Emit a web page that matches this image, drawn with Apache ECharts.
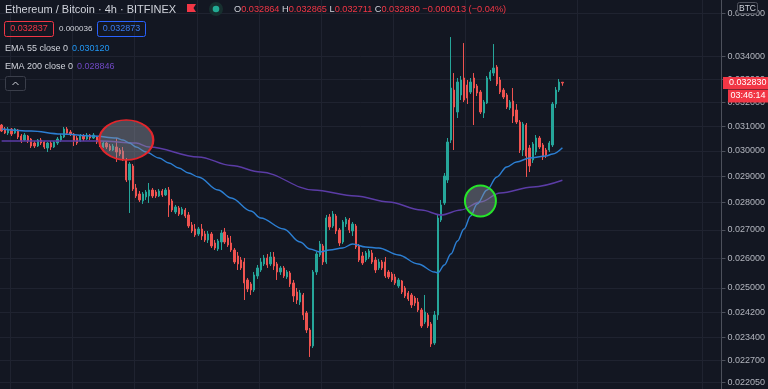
<!DOCTYPE html>
<html>
<head>
<meta charset="utf-8">
<title>ETH/BTC 4h BITFINEX</title>
<script src="https://cdn.jsdelivr.net/npm/echarts@6.0.0/dist/echarts.min.js"></script>
<style>
html,body{margin:0;padding:0;background:#131722;overflow:hidden;}
#chart{width:768px;height:389px;}
</style>
</head>
<body>
<div id="chart"></div>
<script>
// ---------------- data (prices in millionths of BTC) ----------------
const PRICE_UNIT = 1e-6;
const SLOT_COUNT = 220; // visible 4h slots, including empty right margin

// [open, close, low, high]
const candles = [
[31046,30799,30758,31088],[30882,30717,30676,30964],[30717,30882,30636,30964],[30882,30676,30595,30923],
[30717,30882,30676,30923],[30840,30555,30474,30882],[30595,30392,30312,30676],[30433,30636,30392,30717],
[30595,30392,30312,30636],[30474,30191,30111,30514],[30312,30191,30111,30392],[30191,30433,30151,30474],
[30433,30312,30232,30514],[30352,30151,30071,30392],[30111,30312,29951,30352],[30312,30151,30031,30392],
[30151,30352,30111,30392],[30312,30474,30232,30555],[30433,30595,30352,30676],[30555,30882,30514,30964],
[30882,30717,30636,30964],[30758,30676,30595,30840],[30676,30392,30191,30717],[30514,30312,30232,30595],
[30392,30595,30352,30676],[30595,30474,30392,30676],[30474,30636,30433,30717],[30636,30514,30433,30676],
[30514,30636,30474,30717],
[30555,30352,30272,30595],[30392,30191,30151,30474],[30151,30312,30111,30392],[30312,30151,30071,30352],
[30191,30031,29991,30272],[30031,30191,29991,30272],[30151,29951,29556,30514],[30031,29872,29793,30111],
[29991,29635,29596,30151],[29635,28857,28780,29714],[28857,29478,27618,29556],[29400,28514,28438,29478],
[28552,28250,28175,28704],[28325,28100,28025,28438],[28063,28325,27951,28400],[28213,28400,28100,28476],
[28250,28476,27988,28742],[28476,28250,28175,28552],[28400,28250,28175,28476],[28250,28438,28213,28514],
[28438,28288,28213,28514],[28288,28476,28250,28552],[28476,27914,27472,28590],[28063,27728,27654,28138],
[27654,27840,27581,27914],[27802,27581,27508,27877],[27581,27765,27545,27840],[27728,27508,27435,27802],
[27545,27145,27073,27654],
[27181,26965,26893,27289],[27037,26822,26751,27217],[26858,27037,26787,27109],[27037,26787,26644,27217],
[26858,26644,26573,26965],[26644,26858,26538,26965],[26858,26433,26362,26929],[26538,26362,26292,26644],
[26327,26609,26257,26680],[26573,26893,26292,27001],[26929,26573,26503,27073],[26715,26468,26398,26822],
[26538,26292,26222,26787],[26292,25876,25808,26362],[26084,25808,25602,26222],[25945,25671,25602,26049],
[25876,25164,24600,26014],[25264,24963,24863,25332],[25130,24930,24765,25197],[24930,25433,24863,25534],
[25399,25671,25298,25773],[25602,25876,25534,26014],[25808,26014,25739,26118],[26014,25773,25671,26153],
[25808,26049,25739,26222],[26049,25739,25602,26222],[25808,25534,25264,25876],[25534,25671,25433,25739],
[25671,25399,25332,25739],[25366,25534,25298,25602],[25500,25130,25030,25568],[25164,24732,24535,25264],
[24863,24600,24470,24997],[24535,24830,24438,24930],[24765,24115,23955,24830],[24179,23638,23544,24243],
[23638,23141,22805,23701],[23141,25534,23079,25602],[25534,26153,25433,26222],[26118,26503,26049,26609],
[26433,25876,25773,26503],[25876,27435,25808,27545],[27472,27109,27001,27581],[27145,27581,27073,27691],
[27508,26965,26858,27581],[27001,26538,26433,27073],[26573,27289,26503,27362],[27217,27399,27109,27472],
[27362,27001,26893,27435],[26965,27217,26787,27289],[27145,26398,26327,27217],[26433,25945,25876,26503],
[26084,25842,25773,26222],[25945,26187,25876,26257],[26049,26257,25980,26327],[26187,25876,25808,26292],
[25945,25602,25500,26049],
[25671,25876,25602,25980],[25876,25671,25602,25945],[25876,25399,25332,26049],[25534,25366,25298,25602],
[25467,25264,25197,25534],[25366,25164,25097,25467],[25063,25264,24997,25332],[25231,24863,24797,25264],
[24997,24732,24666,25063],[24830,24633,24568,24896],[24765,24438,24341,24830],[24666,24503,24405,24732],
[24535,24276,24211,24666],[24276,23765,23701,24341],[23891,24211,23828,24765],[24115,23765,23701,24179],
[23828,23202,23110,23891],[23233,24115,23172,24243],[24115,27435,23955,27545],[27362,27914,27289,28100],
[27988,29011,27914,29127],[28857,30352,28742,30514],[30433,32612,30312,34900],[32525,31798,30031,33268],
[31587,32873,31337,33049],[32310,32961,32096,33137],[33049,32096,32010,34622],[32743,32181,31925,32961],
[32438,32873,32352,33049],
[33049,32612,31046,33268],[32699,32395,32267,32786],[32438,31587,31504,32525],[31545,32010,31337,32096],
[31968,33049,31925,33137],[33005,33312,32917,33402],[33268,33491,33137,34576],[33536,32786,32699,33625],
[32961,32438,32352,33093],[32525,32224,32138,32612],[32310,31798,31714,32395],[31756,32010,31672,32096],
[32053,31420,31129,32612],[31672,31170,31088,31925],[31170,30031,29912,31253],[30031,31088,29793,31170],
[31046,29793,28973,31129],[30111,29400,29165,30232],[29635,30272,29517,30352],[29951,30514,29833,30636],
[30514,30151,30071,30595],[30232,29754,29635,30312],[30031,29833,29714,30111],[30031,30312,29951,30392],
[30232,31925,30151,32010],[31925,32525,31756,32656],[32525,32873,32438,33005],[32864,32830,32711,32865]
];

// EMA readings [bar index, value]
const ema55 = [[0,30882],[9,30799],[18,30676],[28,30595],[35,30514],[37,30433],[39,30312],[41,30151],
[44,29951],[48,29714],[51,29517],[54,29321],[57,29127],[60,28973],[66,28476],[70,28175],[76,27691],
[79,27435],[86,27037],[91,26573],[94,26327],[97,26222],[100,26292],[104,26362],[107,26503],[111,26398],
[115,26362],[121,26118],[127,25808],[132,25534],[133,25500],[135,25773],[137,26153],[139,26609],
[141,27037],[143,27508],[145,27951],[148,28476],[151,28973],[154,29361],[157,29556],[161,29714],
[166,29793],[168,29872],[171,30120]];
const ema200 = [[0,30392],[15,30392],[30,30392],[41,30312],[45,30151],[60,29754],[70,29420],[79,29165],
[95,28476],[108,28250],[118,28025],[128,27728],[134,27545],[140,27728],[146,28025],[152,28363],
[162,28590],[171,28846]];

const tickValues = [36000,34000,33000,32000,31000,30000,29000,28000,27000,26000,25000,24200,23400,22700,22050];
const axisMin = 21854, axisMax = 36662;
const lastClose = 32830;
const countdown = '03:46:14';
const gridBoundaries = [3,22,41,60,79,98,120,142,176,214];
const sellZone = [37.5, 30433];   // red highlight (bar index, price)
const buyZone = [145.6, 28063];   // green highlight

const categories = Array.from({length: SLOT_COUNT}, (_, i) => 'bar' + i);

// ---------------- chart ----------------
const FONT = '"Liberation Sans", Arial, sans-serif';
const UP = '#26a69a', DOWN = '#ef5350';
const GRID = '#1f2330';
const boundarySet = new Set(gridBoundaries);
const tickReal = tickValues.map(v => v * PRICE_UNIT);

const chart = echarts.init(document.getElementById('chart'), null, {renderer: 'canvas'});

const option = {
  backgroundColor: '#131722',
  animation: false,
  grid: {left: 0, right: 45, top: 0, bottom: 0, containLabel: false},
  xAxis: {
    type: 'category', data: categories, boundaryGap: true,
    axisLine: {show: false}, axisTick: {show: false}, axisLabel: {show: false},
    splitLine: {show: true, interval: (i) => boundarySet.has(i), lineStyle: {color: GRID, width: 1}}
  },
  yAxis: {
    type: 'log', logBase: 10, position: 'right',
    min: axisMin * PRICE_UNIT, max: axisMax * PRICE_UNIT,
    axisLine: {show: true, lineStyle: {color: '#4c505b'}},
    axisTick: {show: true, length: 4, lineStyle: {color: '#4c505b'}, customValues: tickReal},
    axisLabel: {show: true, customValues: tickReal, margin: 6, color: '#b2b5be', fontSize: 9, fontFamily: FONT,
      formatter: v => Number(v).toFixed(6)},
    splitLine: {show: true, lineStyle: {color: GRID, width: 1}}
  },
  series: [
    {
      type: 'candlestick', z: 2, barWidth: 1.8,
      data: candles.map(c => c.map(v => v * PRICE_UNIT)),
      itemStyle: {color: UP, color0: DOWN, borderColor: UP, borderColor0: DOWN, borderWidth: 1}
    },
    {
      type: 'line', z: 3, name: 'EMA 200', showSymbol: false, smooth: 0.35, smoothMonotone: 'x',
      data: ema200.map(([i, v]) => [i, v * PRICE_UNIT]),
      lineStyle: {color: '#5b3ca6', width: 1.4}
    },
    {
      type: 'line', z: 3, name: 'EMA 55', showSymbol: false, smooth: 0.35, smoothMonotone: 'x',
      data: ema55.map(([i, v]) => [i, v * PRICE_UNIT]),
      lineStyle: {color: '#2c7fd3', width: 1.4}
    },
    {
      type: 'scatter', z: 4, silent: true, symbol: 'circle', symbolSize: [54, 40],
      data: [[sellZone[0], sellZone[1] * PRICE_UNIT]],
      itemStyle: {color: 'rgba(140,145,158,0.45)', borderColor: '#e3262c', borderWidth: 2, opacity: 1}
    },
    {
      type: 'scatter', z: 4, silent: true, symbol: 'circle', symbolSize: 31,
      data: [[buyZone[0], buyZone[1] * PRICE_UNIT]],
      itemStyle: {color: 'rgba(140,145,158,0.45)', borderColor: '#26e52a', borderWidth: 2, opacity: 1}
    }
  ]
};
chart.setOption(option);

// ---------------- header & price tag ----------------
const TXT = '#d1d4dc';
const fmt = v => (v * PRICE_UNIT).toFixed(6);
const yLast = chart.convertToPixel({yAxisIndex: 0}, lastClose * PRICE_UNIT);

const graphics = [
  {type: 'text', x: 5, y: 9.5, style: {text: 'Ethereum / Bitcoin · 4h · BITFINEX', fill: TXT, font: '11px ' + FONT, verticalAlign: 'middle'}},
  {type: 'polygon', shape: {points: [[187, 4], [196, 4], [193.5, 8], [196, 12], [187, 12]]}, style: {fill: '#f23645'}},
  {type: 'circle', shape: {cx: 216, cy: 9, r: 7}, style: {fill: '#17302f'}},
  {type: 'circle', shape: {cx: 216, cy: 9, r: 3.3}, style: {fill: '#22ab94'}},
  {type: 'text', x: 234, y: 9.5, style: {
    text: '{k|O}{v|0.032864} {k|H}{v|0.032865} {k|L}{v|0.032711} {k|C}{v|0.032830} {v|−0.000013 (−0.04%)}',
    font: '9.2px ' + FONT, verticalAlign: 'middle',
    rich: {k: {fill: TXT, font: '9.2px ' + FONT}, v: {fill: '#f23645', font: '9.2px ' + FONT}}
  }},
  {type: 'rect', shape: {x: 4.5, y: 21.5, width: 49, height: 15, r: 2}, style: {fill: 'none', stroke: '#f23645', lineWidth: 1}},
  {type: 'text', x: 29, y: 29, style: {text: '0.032837', fill: '#f23645', font: '9px ' + FONT, align: 'center', verticalAlign: 'middle'}},
  {type: 'text', x: 59, y: 29, style: {text: '0.000036', fill: TXT, font: '8px ' + FONT, verticalAlign: 'middle'}},
  {type: 'rect', shape: {x: 97.5, y: 21.5, width: 48, height: 15, r: 2}, style: {fill: 'none', stroke: '#2962ff', lineWidth: 1}},
  {type: 'text', x: 121.5, y: 29, style: {text: '0.032873', fill: '#3a7bf0', font: '9px ' + FONT, align: 'center', verticalAlign: 'middle'}},
  {type: 'text', x: 5, y: 49, style: {text: 'EMA 55 close 0', fill: TXT, font: '9px ' + FONT, verticalAlign: 'middle'}},
  {type: 'text', x: 72, y: 49, style: {text: '0.030120', fill: '#2196f3', font: '9px ' + FONT, verticalAlign: 'middle'}},
  {type: 'text', x: 5, y: 66.5, style: {text: 'EMA 200 close 0', fill: TXT, font: '9px ' + FONT, verticalAlign: 'middle'}},
  {type: 'text', x: 77, y: 66.5, style: {text: '0.028846', fill: '#7048c4', font: '9px ' + FONT, verticalAlign: 'middle'}},
  {type: 'rect', shape: {x: 5.5, y: 76.5, width: 20, height: 14, r: 2}, style: {fill: '#131722', stroke: '#3a3e4a', lineWidth: 1}},
  {type: 'polyline', shape: {points: [[12.5, 85], [15.5, 82], [18.5, 85]]}, style: {stroke: TXT, lineWidth: 1, fill: 'none'}},
  // currency box on price scale
  {type: 'rect', z: 100, shape: {x: 737.5, y: 2.5, width: 20, height: 11, r: 2}, style: {fill: '#131722', stroke: '#50535e', lineWidth: 1}},
  {type: 'text', z: 101, x: 747.5, y: 8.2, style: {text: 'BTC', fill: TXT, font: '8.5px ' + FONT, align: 'center', verticalAlign: 'middle'}},
  // last price tag + countdown
  {type: 'rect', z: 100, shape: {x: 723, y: yLast - 6, width: 45, height: 12}, style: {fill: '#f23645'}},
  {type: 'text', z: 101, x: 729, y: yLast, style: {text: fmt(lastClose), fill: '#ffffff', font: '9px ' + FONT, verticalAlign: 'middle'}},
  {type: 'rect', z: 100, shape: {x: 728, y: yLast + 6.5, width: 40, height: 13}, style: {fill: '#f23645'}},
  {type: 'text', z: 101, x: 748, y: yLast + 13, style: {text: countdown, fill: '#ffffff', font: '9px ' + FONT, align: 'center', verticalAlign: 'middle'}}
];
chart.setOption({graphic: graphics});
</script>
</body>
</html>
